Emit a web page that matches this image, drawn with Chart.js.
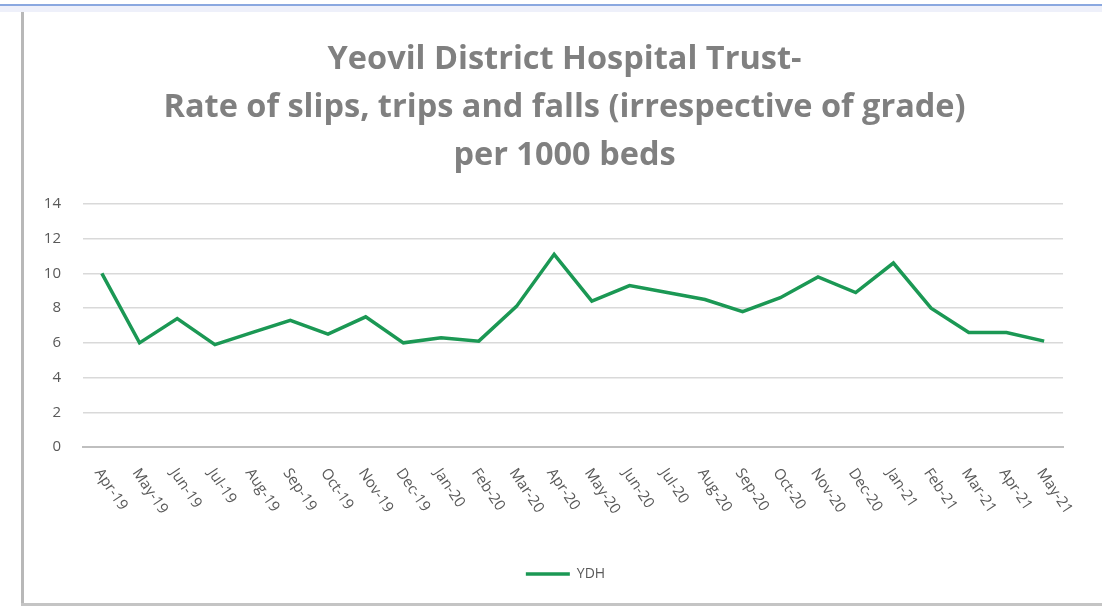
<!DOCTYPE html>
<html>
<head>
<meta charset="utf-8">
<script src="https://cdn.jsdelivr.net/npm/chart.js@4.4.0/dist/chart.umd.min.js"></script>
<style>
    html, body { margin: 0; padding: 0; background: #fff; }
    #wrap { position: relative; width: 1102px; height: 608px; overflow: hidden; }
    #topLine { position: absolute; left: 0; top: 4px; width: 1102px; height: 2px; background: #8aa8e0; }
    #topBand { position: absolute; left: 0; top: 6px; width: 1102px; height: 6px; background: #eef0fa; }
    #frameLeft { position: absolute; left: 21px; top: 12px; width: 3px; height: 594px; background: #b8b8b8; }
    #frameBottom { position: absolute; left: 21px; top: 603px; width: 1081px; height: 3px; background: #c4c4c4; }
    canvas { position: absolute; left: 0; top: 0; }
</style>
</head>
<body>
<div id="wrap">
    <div id="topBand"></div>
    <div id="topLine"></div>
    <canvas id="chart" width="1102" height="608"></canvas>
    <div id="frameLeft"></div>
    <div id="frameBottom"></div>
</div>
<script>
const months = ['Apr-19', 'May-19', 'Jun-19', 'Jul-19', 'Aug-19', 'Sep-19', 'Oct-19', 'Nov-19', 'Dec-19',
    'Jan-20', 'Feb-20', 'Mar-20', 'Apr-20', 'May-20', 'Jun-20', 'Jul-20', 'Aug-20', 'Sep-20', 'Oct-20',
    'Nov-20', 'Dec-20', 'Jan-21', 'Feb-21', 'Mar-21', 'Apr-21', 'May-21'];
const ydhRate = [10.0, 6.0, 7.4, 5.9, 6.6, 7.3, 6.5, 7.5, 6.0,
    6.3, 6.1, 8.1, 11.1, 8.4, 9.3, 8.9, 8.5, 7.8, 8.6,
    9.8, 8.9, 10.6, 8.0, 6.6, 6.6, 6.1];
const yTicks = [0, 2, 4, 6, 8, 10, 12, 14];
const titleLines = ['Yeovil District Hospital Trust-', 'Rate of slips, trips and falls (irrespective of grade)', 'per 1000 beds'];

const labelFont = '15px "Open Sans", "Liberation Sans", sans-serif';
const labelColor = '#595959';

// Excel-style slanted month labels (reading down to the right)
const slantLabels = {
    id: 'slantLabels',
    afterLayout(chart) {
        // title and legend in the original sit a little right of centre
        chart.legend.left += 19;
        chart.legend.right += 19;
        chart.titleBlock.left += 18;
        chart.titleBlock.right += 18;
    },
    afterDraw(chart) {
        const x = chart.scales.x;
        const ctx = chart.ctx;
        ctx.save();
        ctx.font = labelFont;
        ctx.fillStyle = labelColor;
        ctx.textAlign = 'left';
        ctx.textBaseline = 'middle';
        months.forEach((m, i) => {
            const px = x.getPixelForTick(i);
            ctx.save();
            ctx.translate(px - 4, x.top + 23);
            ctx.rotate(56 * Math.PI / 180);
            ctx.fillText(m, 0, 0);
            ctx.restore();
        });
        ctx.restore();
    }
};

const ctx = document.getElementById('chart').getContext('2d');
new Chart(ctx, {
    type: 'line',
    data: {
        labels: months,
        datasets: [{
            label: 'YDH',
            data: ydhRate,
            borderColor: '#1b9854',
            backgroundColor: '#1b9854',
            borderWidth: 3.5,
            pointRadius: 0,
            tension: 0,
            fill: false
        }]
    },
    options: {
        responsive: false,
        animation: false,
        layout: { padding: { left: 30, right: 39, top: 0, bottom: 17 } },
        plugins: {
            title: {
                display: true,
                text: titleLines,
                color: '#808080',
                font: { family: '"Open Sans", Lato, sans-serif', size: 32.5, weight: 'bold', lineHeight: '48px' },
                padding: { top: 36, bottom: 24 }
            },
            legend: {
                position: 'bottom',
                labels: {
                    usePointStyle: true,
                    pointStyle: 'line',
                    pointStyleWidth: 44,
                    boxWidth: 44,
                    color: labelColor,
                    font: { family: '"Open Sans", "Liberation Sans", sans-serif', size: 14 },
                    padding: 10
                }
            },
            tooltip: { enabled: false }
        },
        scales: {
            x: {
                offset: true,
                ticks: { display: false },
                grid: { display: false, drawTicks: false },
                border: { color: '#bfbfbf', width: 2 },
                afterFit(scale) { scale.height = 110; }
            },
            y: {
                min: 0,
                max: 14,
                afterBuildTicks(scale) { scale.ticks = yTicks.map(v => ({ value: v })); },
                ticks: {
                    color: labelColor,
                    font: { family: '"Open Sans", "Liberation Sans", sans-serif', size: 15 },
                    padding: 22
                },
                grid: { color: '#d9d9d9', lineWidth: 1.5, drawTicks: false },
                border: { display: false },
                afterFit(scale) { scale.width = 53; }
            }
        }
    },
    plugins: [slantLabels]
});
</script>
</body>
</html>
